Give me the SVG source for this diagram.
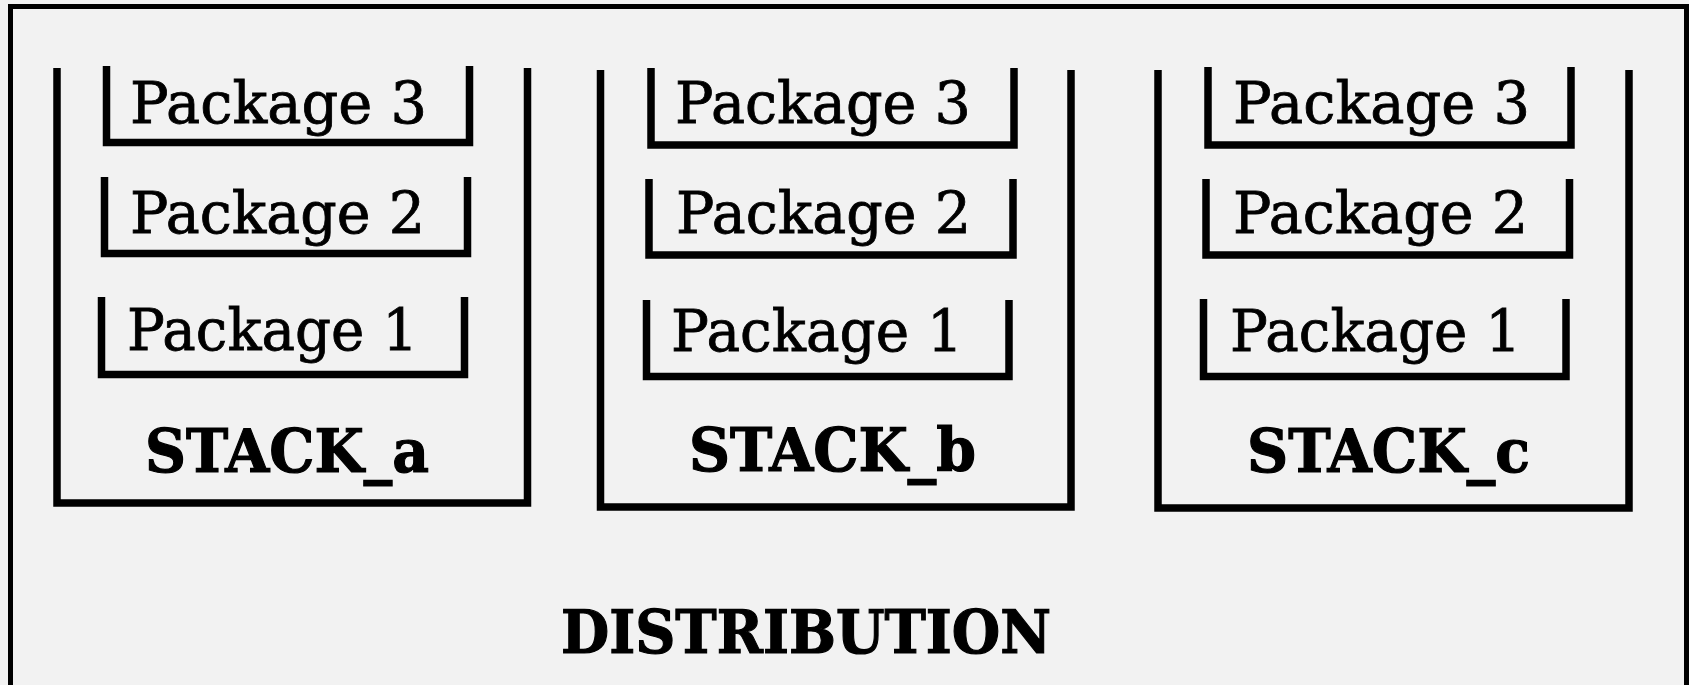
<svg xmlns="http://www.w3.org/2000/svg" width="1689" height="685" viewBox="0 0 1689 685">
<style>
.bg{fill:#f2f2f2}
.frame{fill:#f2f2f2;stroke:#000;stroke-width:5}
.wall{fill:none;stroke:#000;stroke-width:7.5;stroke-linejoin:miter;stroke-linecap:butt}
.pkg{font-family:"DejaVu Serif","Liberation Serif",serif;font-size:57px;fill:#000;stroke:#000;stroke-width:0.8}
.lbl{font-family:"DejaVu Serif","Liberation Serif",serif;font-size:60px;font-weight:bold;fill:#000;stroke:#000;stroke-width:1.2}
</style>
<rect class="bg" x="0" y="0" width="1689" height="685"/>
<g id="distribution">
<rect class="frame" x="10.5" y="6.5" width="1676" height="681"/>
<text class="lbl" x="561" y="653" textLength="490" lengthAdjust="spacingAndGlyphs">DISTRIBUTION</text>
</g>
<g id="stack_a">
<path class="wall" d="M57 68 V503 H527.5 V68"/>
<text class="lbl" x="145" y="472" textLength="284" lengthAdjust="spacingAndGlyphs">STACK_a</text>
</g>
<g id="stack_a_p3"><path class="wall" d="M106.5 66 V142.5 H469.5 V66"/><text class="pkg" x="130" y="123" textLength="297" lengthAdjust="spacingAndGlyphs">Package 3</text></g>
<g id="stack_a_p2"><path class="wall" d="M104.5 177 V253.5 H467.5 V177"/><text class="pkg" x="130" y="233" textLength="295" lengthAdjust="spacingAndGlyphs">Package 2</text></g>
<g id="stack_a_p1"><path class="wall" d="M101.5 297 V374.5 H464.5 V297"/><text class="pkg" x="127" y="350" textLength="291" lengthAdjust="spacingAndGlyphs">Package 1</text></g>
<g id="stack_b">
<path class="wall" d="M600.5 70 V507 H1071 V70"/>
<text class="lbl" x="689" y="471" textLength="287" lengthAdjust="spacingAndGlyphs">STACK_b</text>
</g>
<g id="stack_b_p3"><path class="wall" d="M651 68 V145 H1014 V68"/><text class="pkg" x="675" y="123" textLength="296" lengthAdjust="spacingAndGlyphs">Package 3</text></g>
<g id="stack_b_p2"><path class="wall" d="M649 179 V255 H1013 V179"/><text class="pkg" x="676" y="233" textLength="295" lengthAdjust="spacingAndGlyphs">Package 2</text></g>
<g id="stack_b_p1"><path class="wall" d="M646.5 300 V376.5 H1009 V300"/><text class="pkg" x="671" y="351" textLength="292" lengthAdjust="spacingAndGlyphs">Package 1</text></g>
<g id="stack_c">
<path class="wall" d="M1158 70 V508 H1629 V70"/>
<text class="lbl" x="1247" y="472" textLength="283" lengthAdjust="spacingAndGlyphs">STACK_c</text>
</g>
<g id="stack_c_p3"><path class="wall" d="M1208 67 V145 H1571 V67"/><text class="pkg" x="1233" y="123" textLength="297" lengthAdjust="spacingAndGlyphs">Package 3</text></g>
<g id="stack_c_p2"><path class="wall" d="M1206 179 V255 H1569.5 V179"/><text class="pkg" x="1233" y="233" textLength="295" lengthAdjust="spacingAndGlyphs">Package 2</text></g>
<g id="stack_c_p1"><path class="wall" d="M1203.5 299 V376.5 H1566 V299"/><text class="pkg" x="1230" y="351" textLength="291" lengthAdjust="spacingAndGlyphs">Package 1</text></g>
<g id="connectors"/>
</svg>
